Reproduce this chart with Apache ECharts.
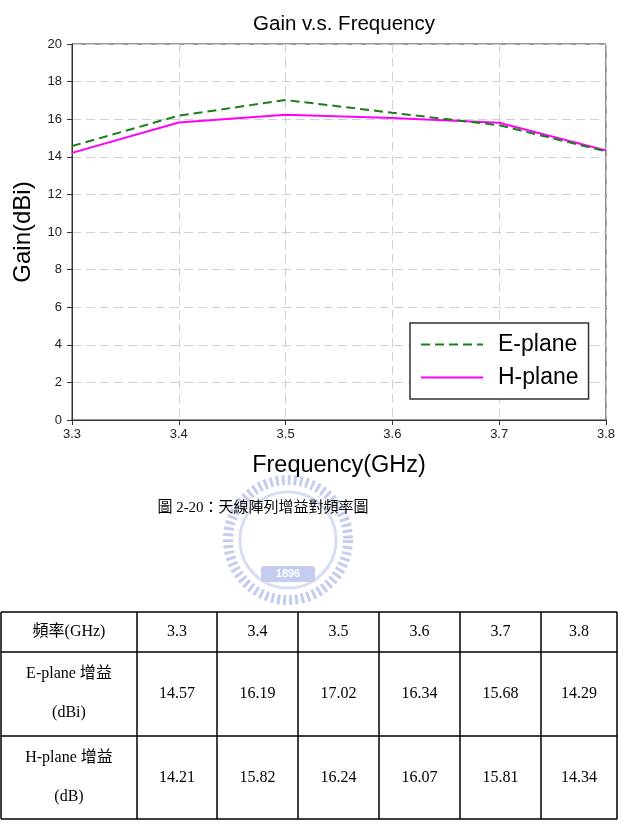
<!DOCTYPE html>
<html><head><meta charset="utf-8">
<script src="https://cdn.jsdelivr.net/npm/echarts@6/dist/echarts.min.js"></script>
<style>html,body{margin:0;padding:0;background:#fff}#c{width:618px;height:829px}</style>
</head><body><div id="c"></div>
<script>
const categories = ['3.3','3.4','3.5','3.6','3.7','3.8'];
const ePlane = [14.57, 16.19, 17.02, 16.34, 15.68, 14.29];
const hPlane = [14.21, 15.82, 16.24, 16.07, 15.81, 14.34];
const yTicks = {min: 0, max: 20, interval: 2};
const seriesNames = ['E-plane', 'H-plane'];
const tableHeader = '頻率(GHz)';
const rowLabels = [['E-plane 增益', '(dBi)'], ['H-plane 增益', '(dB)']];
const caption = '圖 2-20：天線陣列增益對頻率圖';

const chart = echarts.init(document.getElementById('c'), null, {renderer: 'canvas'});

const colX = [1, 137, 217, 298, 379, 460, 541, 617];
const rowY = [612, 652, 736, 819];
const g = [];
const lineStyle = {stroke: '#000', lineWidth: 1.5};
rowY.forEach(y => g.push({type: 'line', shape: {x1: colX[0], y1: y, x2: colX[7], y2: y}, style: lineStyle}));
colX.forEach(x => g.push({type: 'line', shape: {x1: x, y1: rowY[0], x2: x, y2: rowY[3]}, style: lineStyle}));
const serif = '"Liberation Serif","Times New Roman","Noto Sans CJK TC",serif';
function txt(x, y, s) {
  g.push({type: 'text', x: x, y: y, style: {text: s, font: '16px ' + serif, fill: '#000', align: 'center', verticalAlign: 'middle'}});
}
txt((colX[0] + colX[1]) / 2, 632, tableHeader);
categories.forEach((c, i) => txt((colX[i + 1] + colX[i + 2]) / 2, 632, c));
[ePlane, hPlane].forEach((arr, r) => {
  const top = rowY[r + 1], bot = rowY[r + 2];
  const mid = (top + bot) / 2;
  txt((colX[0] + colX[1]) / 2, mid - 20, rowLabels[r][0]);
  txt((colX[0] + colX[1]) / 2, mid + 19, rowLabels[r][1]);
  arr.forEach((v, i) => txt((colX[i + 1] + colX[i + 2]) / 2, mid, v.toFixed(2)));
});
g.push({type: 'text', x: 263, y: 508, style: {text: caption, font: '15px ' + serif, fill: '#000', align: 'center', verticalAlign: 'middle'}});
// faint watermark emblem
g.push({type: 'circle', z: -1, shape: {cx: 288, cy: 540, r: 60}, style: {fill: 'none', stroke: '#c4cdf0', lineWidth: 10, lineDash: [3, 3]}});
g.push({type: 'circle', z: -1, shape: {cx: 288, cy: 540, r: 48}, style: {fill: 'none', stroke: '#d6ddf5', lineWidth: 3}});
g.push({type: 'rect', z: -1, shape: {x: 261, y: 566, width: 54, height: 16, r: 3}, style: {fill: '#c4cdf0'}});
g.push({type: 'text', z: -1, x: 288, y: 574, style: {text: '1896', font: 'bold 11px Arial', fill: '#fff', align: 'center', verticalAlign: 'middle'}});

const sans = 'Arial, "Liberation Sans"';
chart.setOption({
  animation: false,
  backgroundColor: '#fff',
  title: {
    text: 'Gain v.s. Frequency', left: 339, top: 9, textAlign: 'center',
    textStyle: {fontFamily: sans, fontSize: 20.5, fontWeight: 'normal', color: '#000'}
  },
  grid: {left: 72, right: 12, top: 44, height: 376, show: true, borderColor: '#333', borderWidth: 1, backgroundColor: 'transparent'},
  legend: {
    data: seriesNames, orient: 'vertical', left: 410, top: 323, width: 180,
    padding: [10, 10, 10, 10], itemGap: 10, itemWidth: 62, itemHeight: 20,
    borderColor: '#333', borderWidth: 1.5, backgroundColor: '#fff',
    itemStyle: {opacity: 0},
    textStyle: {fontFamily: sans, fontSize: 23, color: '#000', padding: [0, 0, 0, 10]}
  },
  xAxis: {
    type: 'category', data: categories, boundaryGap: false,
    name: 'Frequency(GHz)', nameLocation: 'middle', nameGap: 34,
    nameTextStyle: {fontFamily: sans, fontSize: 23.5, color: '#000'},
    axisLine: {lineStyle: {color: '#333', width: 1}},
    axisTick: {show: true, length: 5, lineStyle: {color: '#333'}},
    axisLabel: {fontFamily: sans, fontSize: 13, color: '#222', margin: 8},
    splitLine: {show: true, lineStyle: {color: '#d0d0d0', type: [9, 5], width: 1}}
  },
  yAxis: {
    type: 'value', min: yTicks.min, max: yTicks.max, interval: yTicks.interval,
    name: 'Gain(dBi)', nameLocation: 'middle', nameGap: 37,
    nameTextStyle: {fontFamily: sans, fontSize: 24, color: '#000'},
    axisLine: {show: true, lineStyle: {color: '#333', width: 1}},
    axisTick: {show: true, length: 5, lineStyle: {color: '#333'}},
    axisLabel: {fontFamily: sans, fontSize: 13, color: '#222', margin: 10},
    splitLine: {show: true, lineStyle: {color: '#d0d0d0', type: [9, 5], width: 1}}
  },
  series: [
    {name: seriesNames[0], type: 'line', data: ePlane, symbol: 'none', z: 3,
     lineStyle: {color: '#1a7f1a', width: 2, type: [9, 5]}, itemStyle: {color: '#1a7f1a'}},
    {name: seriesNames[1], type: 'line', data: hPlane, symbol: 'none', z: 2,
     lineStyle: {color: '#ff00ff', width: 2, type: 'solid'}, itemStyle: {color: '#ff00ff'}}
  ],
  graphic: g
});
</script></body></html>
